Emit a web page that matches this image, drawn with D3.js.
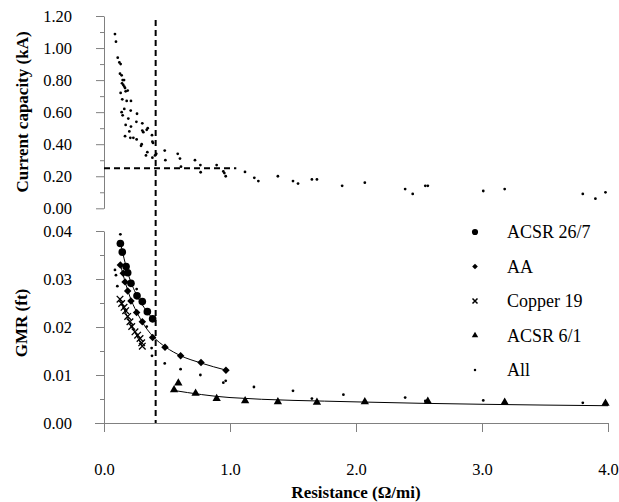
<!DOCTYPE html>
<html>
<head>
<meta charset="utf-8">
<style>
  body { margin: 0; background: #fff; }
  .axis path, .axis line { stroke: #808080; }
</style>
</head>
<body>
<svg width="619" height="502"></svg>
<script src="https://d3js.org/d3.v7.min.js"></script>
<script>
// --- data (resistance in ohm/mi) ---
// top panel: current capacity (kA) of all conductors
var capAll = [
  [0.087,1.087],[0.095,1.04],[0.109,0.94],[0.122,0.91],[0.132,0.90],[0.127,0.84],[0.140,0.83],
  [0.148,0.80],[0.159,0.80],[0.143,0.78],[0.153,0.77],[0.161,0.76],[0.167,0.75],[0.172,0.73],
  [0.188,0.735],[0.132,0.72],[0.145,0.68],[0.18,0.67],[0.214,0.67],[0.161,0.62],[0.212,0.61],
  [0.262,0.59],[0.140,0.60],[0.148,0.58],[0.193,0.56],[0.172,0.52],[0.214,0.51],[0.257,0.54],
  [0.304,0.53],[0.304,0.485],[0.312,0.475],[0.339,0.49],[0.347,0.50],[0.167,0.45],[0.201,0.48],
  [0.209,0.44],[0.233,0.44],[0.259,0.43],[0.299,0.40],[0.294,0.39],[0.333,0.33],[0.381,0.456],
  [0.384,0.416],[0.389,0.408],[0.384,0.316],[0.405,0.33],[0.415,0.34],[0.344,0.35],[0.482,0.36],
  [0.487,0.30],[0.585,0.34],[0.603,0.31],[0.611,0.26],[0.722,0.30],[0.765,0.27],[0.767,0.225],
  [0.894,0.27],[0.947,0.23],[0.955,0.22],[0.966,0.20],[1.119,0.227],[1.193,0.19],[1.225,0.17],
  [1.38,0.20],[1.50,0.17],[1.54,0.154],[1.65,0.18],[1.69,0.18],[1.89,0.14],[2.07,0.16],
  [2.39,0.12],[2.45,0.09],[2.55,0.14],[2.57,0.14],[3.01,0.108],[3.18,0.12],[3.80,0.09],
  [3.90,0.06],[3.98,0.10]
];

// bottom panel: GMR (ft)
var gmrACSR267 = [
  [0.13,0.0374],[0.145,0.0356],[0.175,0.0326],[0.188,0.0313],[0.214,0.0291],[0.262,0.0265],
  [0.304,0.0253],[0.344,0.0232],[0.386,0.0217]
];
var gmrAA = [
  [0.13,0.0329],[0.153,0.0312],[0.167,0.0294],[0.188,0.0275],[0.214,0.0254],[0.259,0.023],
  [0.304,0.0211],[0.386,0.0178],[0.484,0.0158],[0.608,0.014],[0.77,0.0126],[0.968,0.011]
];
var gmrCopper = [
  [0.127,0.0258],[0.14,0.0249],[0.159,0.0241],[0.172,0.0234],[0.188,0.0222],[0.206,0.0211],
  [0.22,0.0201],[0.246,0.019],[0.267,0.0183],[0.286,0.0176],[0.299,0.0167],[0.304,0.016]
];
var gmrACSR61 = [
  [0.556,0.0069],[0.59,0.0083],[0.727,0.0062],[0.894,0.0051],[1.12,0.0046],[1.38,0.0044],
  [1.69,0.0043],[2.07,0.0044],[2.57,0.0045],[3.18,0.0043],[3.98,0.0041]
];
var gmrAll = [
  [0.13,0.0393],[0.087,0.0319],[0.095,0.0308],[0.106,0.0285],[0.259,0.0279],[0.299,0.0256],
  [0.339,0.0201],[0.378,0.0156],[0.381,0.014],[0.482,0.0124],[0.608,0.0112],[0.765,0.010],
  [0.947,0.0084],[0.966,0.0088],[1.19,0.0075],[1.50,0.0067],[1.65,0.0051],[1.90,0.0059],
  [2.39,0.0053],[2.55,0.0046],[3.01,0.0047],[3.80,0.0042],
  [0.13,0.0374],[0.188,0.0313],[0.262,0.0265],[0.344,0.0232],[0.153,0.0312],[0.214,0.0254],
  [0.304,0.0211],[0.172,0.0234],[0.22,0.0201],[0.59,0.0083],[1.12,0.0046],[2.57,0.0045]
];

// trend lines as drawn in the picture
var trendACSR267 = [[0.13,0.0376],[0.19,0.0312],[0.26,0.0266],[0.32,0.0240],[0.39,0.0216]];
var trendAA = [[0.13,0.0330],[0.19,0.0275],[0.30,0.0212],[0.39,0.0180],[0.49,0.0158],[0.61,0.0140],[0.77,0.0125],[0.97,0.0110]];
var trendCopper = [[0.127,0.0258],[0.20,0.0213],[0.30,0.0162]];
var trendACSR61 = [[0.55,0.0068],[1.0,0.0053],[2.0,0.0044],[3.0,0.0039],[4.0,0.0036]];

var xTicks = [0, 1, 2, 3, 4];
var capTicks = [0, 0.2, 0.4, 0.6, 0.8, 1.0, 1.2];
var gmrTicks = [0, 0.01, 0.02, 0.03, 0.04];
var limitR = 0.41, limitCap = 0.25, limitCapEnd = 1.05;

var legendNames = ["ACSR 26/7", "AA", "Copper 19", "ACSR 6/1", "All"];

var serif = "Liberation Serif";

var svg = d3.select("svg");

var x = d3.scaleLinear().domain([0, 4]).range([104, 608]);
var yTop = d3.scaleLinear().domain([0, 1.2]).range([208.3, 16]);
var yBot = d3.scaleLinear().domain([0, 0.04]).range([423, 231]);

// axes
var xAxis = svg.append("g").attr("class", "axis")
  .attr("transform", "translate(0,423)")
  .call(d3.axisBottom(x).tickValues(xTicks).tickSize(9).tickSizeOuter(0).tickFormat(d3.format(".1f")));
xAxis.selectAll("text").attr("y", 40);
xAxis.select(".domain").attr("d", "M95,0.5H608");

function yAxis(scale, ticks, minor, fmt) {
  var g = svg.append("g").attr("class", "axis").attr("transform", "translate(104,0)");
  g.call(d3.axisLeft(scale).tickValues(ticks).tickSize(8).tickSizeOuter(0).tickPadding(24).tickFormat(d3.format(fmt)));
  svg.append("g").attr("class", "axis").attr("transform", "translate(104,0)")
    .call(d3.axisLeft(scale).tickValues(minor).tickSize(4).tickSizeOuter(0).tickFormat(""))
    .select(".domain").remove();
}
yAxis(yTop, capTicks, [0.1, 0.3, 0.5, 0.7, 0.9, 1.1], ".2f");
yAxis(yBot, gmrTicks, [0.005, 0.015, 0.025, 0.035], ".2f");
svg.selectAll(".axis").attr("font-family", serif).attr("font-size", 16.5);
svg.selectAll(".axis text").attr("fill", "#000");

// axis titles
svg.append("text").attr("transform", "translate(22,112) rotate(-90)")
  .attr("text-anchor", "middle").attr("dy", "0.35em")
  .attr("font-family", serif).attr("font-weight", "bold").attr("font-size", 17)
  .text("Current capacity (kA)");
svg.append("text").attr("transform", "translate(21,323) rotate(-90)")
  .attr("text-anchor", "middle").attr("dy", "0.35em")
  .attr("font-family", serif).attr("font-weight", "bold").attr("font-size", 17)
  .text("GMR (ft)");
svg.append("text").attr("x", 356).attr("y", 498).attr("text-anchor", "middle")
  .attr("font-family", serif).attr("font-weight", "bold").attr("font-size", 17)
  .text("Resistance (\u03A9/mi)");

// dashed limits
svg.append("line")
  .attr("x1", x(limitR)).attr("x2", x(limitR)).attr("y1", 20).attr("y2", yBot(0))
  .attr("stroke", "#000").attr("stroke-width", 2).attr("stroke-dasharray", "6,4");
svg.append("line")
  .attr("x1", x(0)).attr("x2", x(limitCapEnd)).attr("y1", yTop(limitCap)).attr("y2", yTop(limitCap))
  .attr("stroke", "#000").attr("stroke-width", 2).attr("stroke-dasharray", "6,4");

// trend lines
var line = d3.line().x(function(d) { return x(d[0]); }).y(function(d) { return yBot(d[1]); }).curve(d3.curveMonotoneX);
[trendACSR267, trendAA, trendCopper, trendACSR61].forEach(function(t) {
  svg.append("path").attr("d", line(t)).attr("fill", "none").attr("stroke", "#000").attr("stroke-width", 1);
});

// markers
var shapes = {
  circle: d3.symbol().type(d3.symbolCircle).size(46),
  diamond: d3.symbol().type(d3.symbolSquare).size(28),
  cross: d3.symbol().type(d3.symbolTimes).size(30),
  tri: d3.symbol().type(d3.symbolTriangle).size(30),
  dot: d3.symbol().type(d3.symbolCircle).size(6)
};

function plot(data, yScale, kind) {
  var rot = kind === "diamond" ? " rotate(45)" : "";
  svg.append("g").selectAll("path").data(data).join("path")
    .attr("d", shapes[kind])
    .attr("transform", function(d) { return "translate(" + x(d[0]) + "," + yScale(d[1]) + ")" + rot; })
    .attr("fill", kind === "cross" ? "none" : "#000")
    .attr("stroke", kind === "cross" ? "#000" : "none")
    .attr("stroke-width", 1.3);
}

plot(capAll, yTop, "dot");
plot(gmrAll, yBot, "dot");
plot(gmrCopper, yBot, "cross");
plot(gmrAA, yBot, "diamond");
plot(gmrACSR267, yBot, "circle");
plot(gmrACSR61, yBot, "tri");

// legend
var legendKinds = ["circle", "diamond", "cross", "tri", "dot"];
var legendSizes = [30, 16, 18, 18, 5];
var legend = svg.append("g");
legendNames.forEach(function(name, i) {
  var yy = 232 + i * 34.5;
  var k = legendKinds[i];
  legend.append("path")
    .attr("d", d3.symbol().type(k === "circle" || k === "dot" ? d3.symbolCircle : k === "diamond" ? d3.symbolSquare : k === "cross" ? d3.symbolTimes : d3.symbolTriangle).size(legendSizes[i]))
    .attr("transform", "translate(475," + yy + ")" + (k === "diamond" ? " rotate(45)" : ""))
    .attr("fill", k === "cross" ? "none" : "#000")
    .attr("stroke", k === "cross" ? "#000" : "none")
    .attr("stroke-width", 1.5);
  legend.append("text").attr("x", 507).attr("y", yy).attr("dy", "0.35em")
    .attr("font-family", serif).attr("font-size", 18).text(name);
});
</script>
</body>
</html>
